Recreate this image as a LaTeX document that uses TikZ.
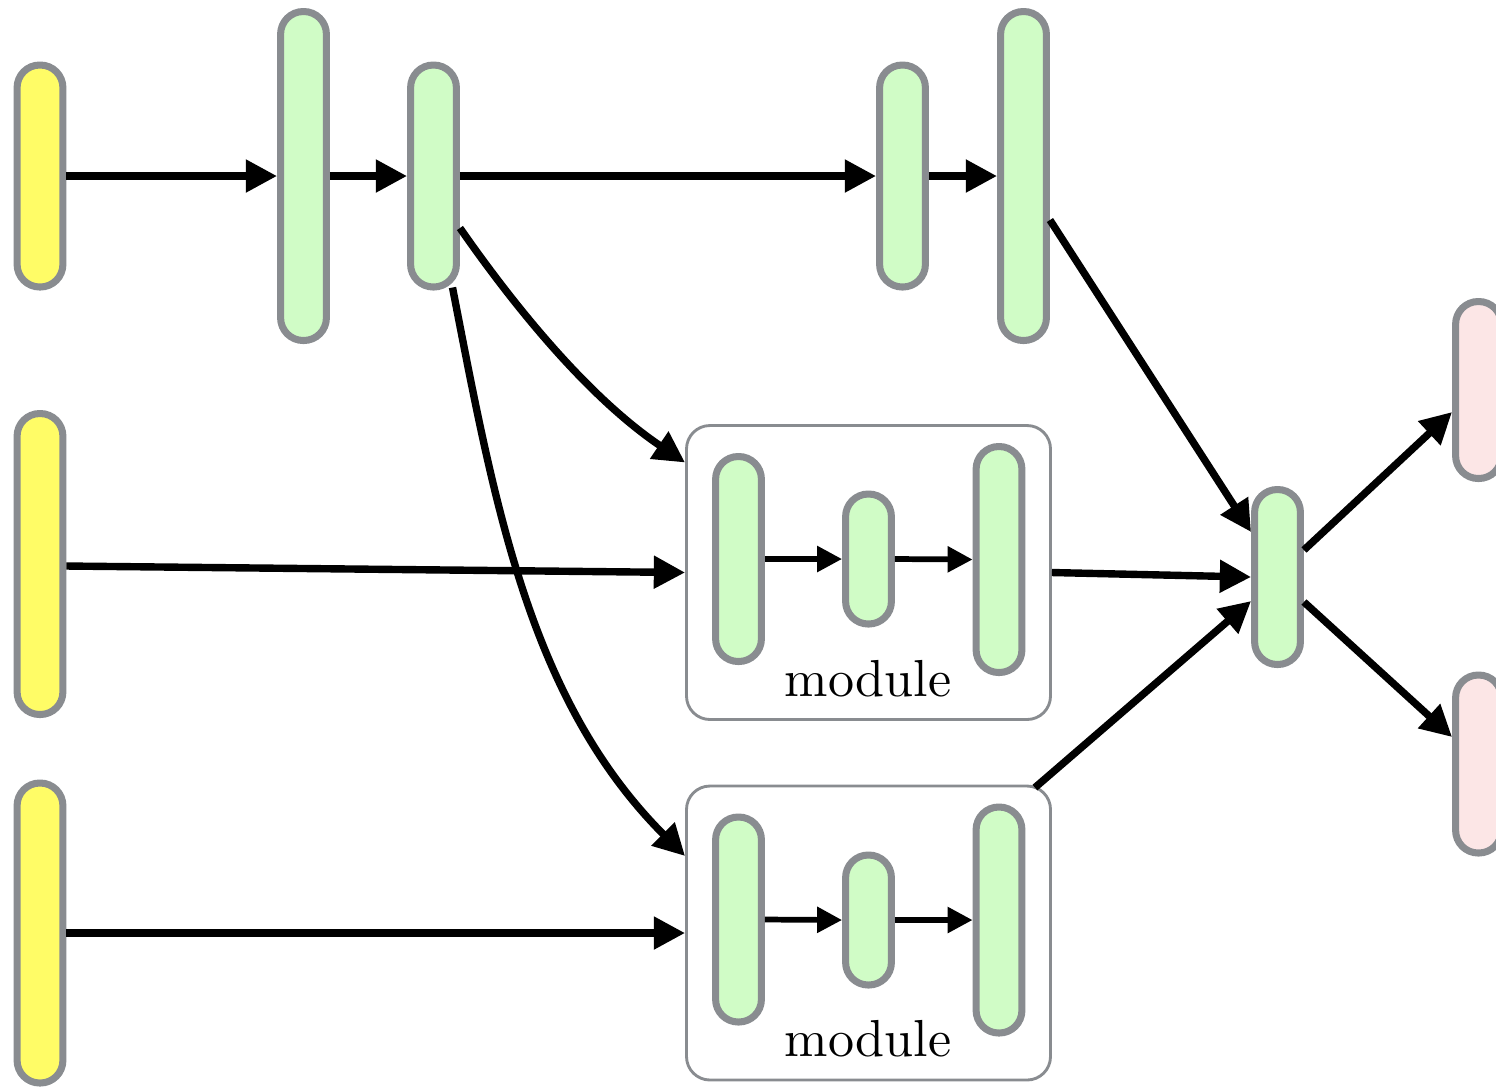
\documentclass[tikz,border=0pt]{standalone}
\usetikzlibrary{arrows.meta,calc}
\definecolor{barborder}{RGB}{137,140,144}
\definecolor{ylw}{RGB}{255,252,102}
\definecolor{grn}{RGB}{208,252,198}
\definecolor{pnk}{RGB}{252,230,230}
\definecolor{boxborder}{RGB}{137,140,144}
\begin{document}
\begin{tikzpicture}[x=0.192pt,y=-0.192pt,
  bar/.style={draw=barborder, line width=1.35pt, rounded corners=4.35pt,
    minimum width=8.8pt, inner sep=0pt},
  ybar/.style={bar, fill=ylw},
  gbar/.style={bar, fill=grn},
  pbar/.style={bar, fill=pnk},
  modbox/.style={draw=boxborder, line width=0.55pt, rounded corners=4.5pt,
    fill=white, minimum width={364*0.192pt}, minimum height={294*0.192pt}, inner sep=0pt},
  modlabel/.style={anchor=base, inner sep=0pt, font=\fontsize{10}{12}\selectfont},
  conn/.style={line width=1.42pt, -{Triangle[length=6pt,width=6pt]}},
  inconn/.style={line width=1.1pt, -{Triangle[length=4.8pt,width=4.8pt]}}
]
\useasboundingbox (0,0) rectangle (1496,1088);

% top row
\node[ybar, minimum height={222*0.192pt}] (Y1) at (40,176) {};
\node[gbar, minimum height={329*0.192pt}] (A) at (303.5,176) {};
\node[gbar, minimum height={222*0.192pt}] (B) at (433.5,176) {};
\node[gbar, minimum height={222*0.192pt}] (C) at (902.5,176) {};
\node[gbar, minimum height={329*0.192pt}] (D) at (1023.5,176) {};

% left inputs
\node[ybar, minimum height={301*0.192pt}] (Y2) at (40,564) {};
\node[ybar, minimum height={300*0.192pt}] (Y3) at (40,933) {};

% module 1
\node[modbox] (M1) at (868.5,572.5) {};
\node[gbar, minimum height={205*0.192pt}] (M1a) at (738.5,559) {};
\node[gbar, minimum height={130*0.192pt}] (M1b) at (868.5,559) {};
\node[gbar, minimum height={226*0.192pt}] (M1c) at (999,559.5) {};
\node[modlabel] (L1) at (868,696) {module};

% module 2
\node[modbox] (M2) at (868.5,933) {};
\node[gbar, minimum height={205*0.192pt}] (M2a) at (738.5,919.5) {};
\node[gbar, minimum height={130*0.192pt}] (M2b) at (868.5,920) {};
\node[gbar, minimum height={226*0.192pt}] (M2c) at (999,920) {};
\node[modlabel] (L2) at (868,1056) {module};

% merge and outputs
\node[gbar, minimum height={175*0.192pt}] (E) at (1277.5,577) {};
\node[pbar, minimum height={177*0.192pt}] (P1) at (1478.5,390) {};
\node[pbar, minimum height={178*0.192pt}] (P2) at (1478.5,764) {};

% connectors
\draw[conn] (Y1.east) -- (A.west);
\draw[conn] (A.east) -- (B.west);
\draw[conn] (B.east) -- (C.west);
\draw[conn] (C.east) -- (D.west);
\draw[conn] ($(B.east)+(0,52)$) .. controls +(57,82) and +(-95,-64) .. ($(M1.west)+(0,-110)$);
\draw[conn] ($(B.south)+(19,-3)$) .. controls +(42,216) and +(-156,-156) .. ($(M2.west)+(0,-77)$);
\draw[conn] ($(Y2.east)+(0,2)$) -- (M1.west);
\draw[conn] (Y3.east) -- (M2.west);
\draw[conn] ($(D.east)+(0,44)$) -- ($(E.west)+(0,-45)$);
\draw[conn] (M1.east) -- (E.west);
\draw[conn] ($(M2.north east)+(-17,3)$) -- ($(E.west)+(0,24)$);
\draw[conn] ($(E.east)+(0,-27)$) -- ($(P1.west)+(0,22)$);
\draw[conn] ($(E.east)+(0,25)$) -- ($(P2.west)+(0,-27)$);

% inner module connectors
\draw[inconn] (M1a.east) -- (M1b.west);
\draw[inconn] (M1b.east) -- (M1c.west);
\draw[inconn] (M2a.east) -- (M2b.west);
\draw[inconn] (M2b.east) -- (M2c.west);
\end{tikzpicture}
\end{document}
